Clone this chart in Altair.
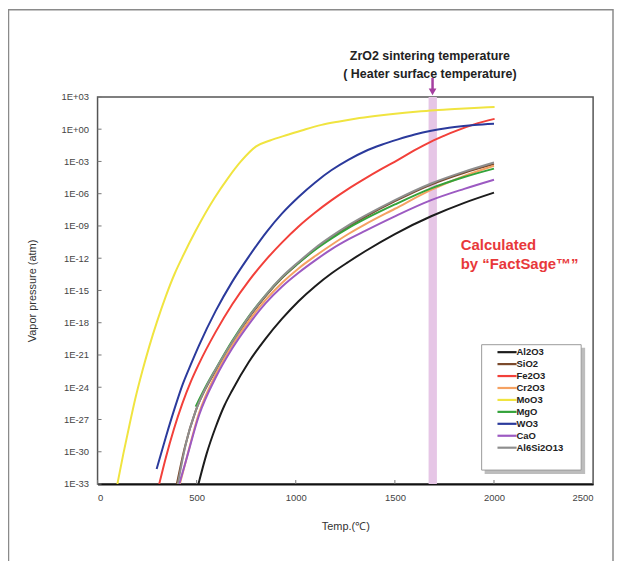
import altair as alt
import pandas as pd

# ---- data ----
series = ["Al2O3", "SiO2", "Fe2O3", "Cr2O3", "MoO3", "MgO", "WO3", "CaO", "Al6Si2O13"]
colors = ["#1c1c1c", "#7b4a2c", "#f2403a", "#f5a262", "#f0e440", "#34a33a", "#2b3a9c", "#9c5ac2", "#8e8e8e"]

# temperature (degC) and log10(vapour pressure / atm)
al2o3_t = [509, 550, 596, 640, 679, 763, 847, 930, 1014, 1098, 1181, 1265, 1350, 1500, 1683, 1850, 2000]
al2o3_e = [-33, -30.2, -27.7, -25.7, -24.3, -21.65, -19.5, -17.65, -16.0, -14.6, -13.4, -12.35, -11.35, -9.75, -8.1, -6.85, -5.9]

sio2_t = [400, 440, 495, 550, 596, 679, 763, 847, 930, 1014, 1098, 1181, 1265, 1350, 1500, 1683, 1850, 2000]
sio2_e = [-33, -29.6, -26.2, -23.95, -22.45, -19.9, -17.55, -15.55, -13.85, -12.45, -11.15, -10.05, -9.05, -8.15, -6.7, -5.15, -4.05, -3.25]

fe2o3_t = [311, 345, 385, 428, 470, 512, 596, 679, 763, 847, 930, 1014, 1098, 1181, 1265, 1349, 1433, 1516, 1600, 1683, 1750, 1802, 1900, 2003]
fe2o3_e = [-33, -30.5, -27.9, -25.5, -23.5, -21.8, -18.85, -16.3, -14.1, -12.2, -10.55, -9.05, -7.75, -6.6, -5.55, -4.6, -3.7, -2.85, -1.95, -1.15, -0.6, -0.2, 0.45, 0.96]

cr2o3_t = [415, 445, 512, 596, 679, 763, 847, 930, 1014, 1098, 1181, 1265, 1350, 1500, 1683, 1850, 2000]
cr2o3_e = [-33, -30.9, -26.4, -22.8, -20.1, -17.85, -15.9, -14.3, -12.95, -11.8, -10.75, -9.75, -8.85, -7.4, -5.65, -4.35, -3.4]

moo3_t = [100, 130, 160, 190, 226, 261, 300, 345, 390, 428, 495, 590, 660, 723, 800, 870, 964, 1050, 1130, 1220, 1300, 1400, 1466, 1550, 1632, 1720, 1802, 1900, 2003]
moo3_e = [-33, -30.2, -27.6, -25.1, -22.5, -20.2, -17.9, -15.5, -13.4, -11.9, -9.45, -6.4, -4.5, -3.0, -1.6, -1.05, -0.5, 0.0, 0.4, 0.72, 0.97, 1.22, 1.36, 1.52, 1.66, 1.79, 1.88, 1.98, 2.07]

mgo_t = [495, 550, 596, 679, 763, 847, 930, 1014, 1098, 1181, 1265, 1350, 1500, 1683, 1850, 2000]
mgo_e = [-25.8, -23.8, -22.3, -19.7, -17.4, -15.45, -13.8, -12.45, -11.2, -10.15, -9.2, -8.35, -7.0, -5.5, -4.45, -3.67]

wo3_t = [298, 345, 390, 428, 470, 512, 596, 679, 763, 855, 930, 1014, 1098, 1181, 1265, 1350, 1433, 1516, 1600, 1683, 1750, 1802, 1900, 2000]
wo3_e = [-31.6, -28.6, -25.9, -23.8, -21.9, -20.1, -16.9, -14.2, -11.85, -9.5, -7.85, -6.3, -4.95, -3.8, -2.85, -2.05, -1.45, -0.95, -0.5, -0.15, 0.07, 0.2, 0.38, 0.5]

cao_t = [412, 445, 512, 596, 679, 763, 847, 930, 1014, 1098, 1181, 1265, 1350, 1500, 1683, 1850, 2000]
cao_e = [-33, -30.9, -26.6, -23.1, -20.4, -18.15, -16.2, -14.65, -13.35, -12.2, -11.15, -10.25, -9.45, -8.1, -6.6, -5.55, -4.7]

al6si2o13_t = [405, 445, 495, 550, 596, 679, 763, 847, 930, 1014, 1098, 1181, 1265, 1350, 1500, 1683, 1850, 2000]
al6si2o13_e = [-33, -29.3, -26.2, -23.9, -22.35, -19.8, -17.45, -15.45, -13.75, -12.35, -11.05, -9.95, -8.95, -8.05, -6.6, -5.05, -3.95, -3.1]

x_ticks = [0, 500, 1000, 1500, 2000, 2500]
y_tick_exps = list(range(3, -34, -3))
band_lo, band_hi, band_mid = 1670, 1712, 1690

series_data = {
    "Al2O3": (al2o3_t, al2o3_e), "SiO2": (sio2_t, sio2_e), "Fe2O3": (fe2o3_t, fe2o3_e),
    "Cr2O3": (cr2o3_t, cr2o3_e), "MoO3": (moo3_t, moo3_e), "MgO": (mgo_t, mgo_e),
    "WO3": (wo3_t, wo3_e), "CaO": (cao_t, cao_e), "Al6Si2O13": (al6si2o13_t, al6si2o13_e),
}
rows = []
for name in series:
    ts, es = series_data[name]
    for t, e in zip(ts, es):
        rows.append({"T": t, "p": 10.0 ** e, "series": name})
df = pd.DataFrame(rows)

W, H = 498, 389
FONT = "Liberation Sans"

xs = alt.Scale(domain=[0, 2500], nice=False, zero=False)
ys = alt.Scale(type="log", domain=[1e-33, 1e3], nice=False)

label_expr = ("'1E' + (round(log(datum.value)/LN10) >= 0 ? '+' : '-') + "
              "(abs(round(log(datum.value)/LN10)) < 10 ? '0' : '') + abs(round(log(datum.value)/LN10))")

x_axis = alt.Axis(values=x_ticks, format="d", title="Temp.(℃)", ticks=False, grid=False,
                  labelFontSize=9.5, labelColor="#444", labelPadding=9,
                  titleFontSize=11, titleFontWeight="normal", titleColor="#333", titlePadding=18,
                  domainColor="#111", domainWidth=2)
y_axis = alt.Axis(values=[10.0 ** e for e in y_tick_exps], labelExpr=label_expr,
                  title="Vapor pressure (atm)", ticks=False, grid=False, domain=False,
                  labelFontSize=9.5, labelColor="#444", labelPadding=9,
                  titleFontSize=11, titleFontWeight="normal", titleColor="#333", titlePadding=24)

frame = alt.Chart().mark_rect(fill=None, stroke="#8a8a8a", strokeWidth=1.5, clip=False).encode(
    x=alt.value(-89.5), x2=alt.value(W + 20), y=alt.value(-87.5), y2=alt.value(H + 120))

band = alt.Chart().mark_rect(fill="#e6c6e6", clip=True).encode(
    x=alt.X(datum=band_lo, scale=xs), x2=alt.X2(datum=band_hi),
    y=alt.value(0), y2=alt.value(H))

shadow = alt.Chart().mark_rect(fill="#bdbdbd").encode(
    x=alt.value(389), x2=alt.value(490), y=alt.value(252), y2=alt.value(379))
legend_box = alt.Chart().mark_rect(fill="white", stroke="#9a9a9a", strokeWidth=1).encode(
    x=alt.value(386), x2=alt.value(486), y=alt.value(249), y2=alt.value(375))

lines = alt.Chart(df).mark_line(strokeWidth=2, interpolate="monotone", clip=True).encode(
    x=alt.X("T:Q", scale=xs, axis=x_axis),
    y=alt.Y("p:Q", scale=ys, axis=y_axis),
    color=alt.Color("series:N", sort=series,
                    scale=alt.Scale(domain=series, range=colors),
                    legend=alt.Legend(title=None, orient="none", legendX=386, legendY=249,
                                      symbolType="M-1.6,0H1.6", symbolSize=144,
                                      symbolStrokeWidth=2.2, symbolOffset=18,
                                      labelFontSize=9.5, labelFontWeight="bold", labelColor="#222",
                                      labelOffset=2, rowPadding=0, padding=0)),
    detail="series:N",
)

ytick_df = pd.DataFrame({"p": [10.0 ** e for e in y_tick_exps]})
yticks = alt.Chart(ytick_df).mark_rule(color="#777", strokeWidth=1).encode(
    y=alt.Y("p:Q", scale=ys), x=alt.value(0), x2=alt.value(4))
xtick_df = pd.DataFrame({"T": x_ticks})
xticks = alt.Chart(xtick_df).mark_rule(color="#777", strokeWidth=1).encode(
    x=alt.X("T:Q", scale=xs), y=alt.value(H), y2=alt.value(H - 4))

arrow = alt.Chart().mark_rule(color="#a53ea0", strokeWidth=2.5, clip=False).encode(
    x=alt.X(datum=band_mid, scale=xs), y=alt.value(-19), y2=alt.value(-6))
arrow_head = alt.Chart().mark_point(shape="triangle-down", filled=True, color="#a53ea0",
                                    size=60, opacity=1, clip=False).encode(
    x=alt.X(datum=band_mid, scale=xs), y=alt.value(-5))

ann1 = alt.Chart().mark_text(text="ZrO2 sintering temperature", fontSize=12.5, fontWeight="bold",
                             font=FONT, color="#222", align="center", baseline="middle").encode(
    x=alt.value(334), y=alt.value(-41))
ann2 = alt.Chart().mark_text(text="( Heater surface temperature)", fontSize=12.5, fontWeight="bold",
                             font=FONT, color="#222", align="center", baseline="middle").encode(
    x=alt.value(334), y=alt.value(-23))

calc1 = alt.Chart().mark_text(text="Calculated", fontSize=15, fontWeight="bold", font=FONT,
                              color="#e8383a", align="left", baseline="middle").encode(
    x=alt.value(365), y=alt.value(149))
calc2 = alt.Chart().mark_text(text="by “FactSage™”", fontSize=15, fontWeight="bold", font=FONT,
                              color="#e8383a", align="left", baseline="middle").encode(
    x=alt.value(365), y=alt.value(168))

chart = alt.layer(frame, band, shadow, legend_box, lines, yticks, xticks, arrow, arrow_head,
                  ann1, ann2, calc1, calc2).properties(
    width=W, height=H,
    autosize=alt.AutoSizeParams(type="none"),
    padding={"left": 90, "top": 88, "right": 21, "bottom": 76},
).configure(font=FONT).configure_view(stroke="#555", strokeWidth=1.5)

chart.save("out.html", embed_options={"renderer": "svg", "actions": False})
